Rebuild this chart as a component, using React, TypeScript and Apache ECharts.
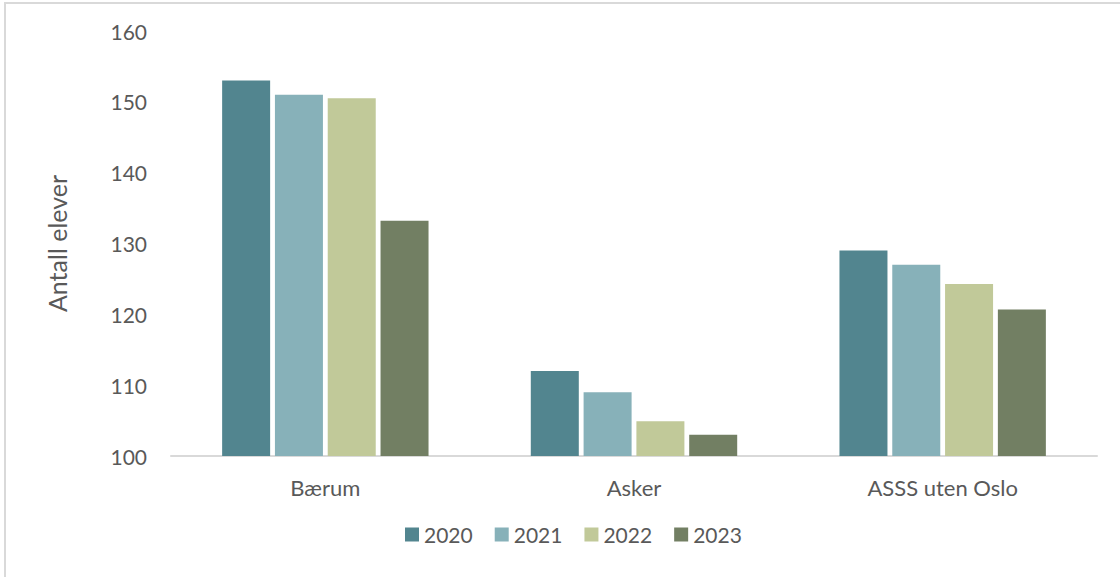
import React, { useEffect, useRef } from "react";
import * as echarts from "echarts";

const categories = ["Bærum", "Asker", "ASSS uten Oslo"];
const years = ["2020", "2021", "2022", "2023"];
const values2020 = [153, 112, 129];
const values2021 = [151, 109, 127];
const values2022 = [150.5, 104.9, 124.3];
const values2023 = [133.2, 103, 120.7];
const yTicks = { min: 100, max: 160, interval: 10 };
const colors = ["#52858F", "#87B1B9", "#C1C999", "#727F63"];

export default function App() {
  const ref = useRef<HTMLDivElement>(null);
  useEffect(() => {
    if (!ref.current) return;
    const chart = echarts.init(ref.current, null, { renderer: "svg" });
    const seriesData = [values2020, values2021, values2022, values2023];
    const font = "Lato, 'Open Sans', sans-serif";
    chart.setOption({
      animation: false,
      backgroundColor: "#ffffff",
      color: colors,
      textStyle: { fontFamily: font },
      graphic: [
        {
          type: "rect",
          shape: { x: 5, y: 3, width: 1130, height: 600 },
          style: { fill: "none", stroke: "#d9d9d9", lineWidth: 2 },
          silent: true,
        },
      ],
      grid: { left: 171, right: 23, top: 31, bottom: 121, containLabel: false },
      legend: {
        data: years,
        bottom: 27,
        left: 400,
        itemWidth: 14,
        itemHeight: 14,
        itemGap: 22,
        icon: "rect",
        textStyle: { fontSize: 21, color: "#595959", fontFamily: font },
      },
      xAxis: {
        type: "category",
        data: categories,
        axisLine: { show: true, lineStyle: { color: "#d9d9d9", width: 2 } },
        axisTick: { show: false },
        axisLabel: { fontSize: 22, color: "#595959", margin: 20, fontFamily: font },
      },
      yAxis: {
        type: "value",
        min: yTicks.min,
        max: yTicks.max,
        interval: yTicks.interval,
        name: "Antall elever",
        nameLocation: "middle",
        nameRotate: 90,
        nameGap: 102,
        nameTextStyle: { fontSize: 25, color: "#595959", fontFamily: font },
        axisLine: { show: false },
        axisTick: { show: false },
        splitLine: { show: false },
        axisLabel: { fontSize: 21, color: "#595959", margin: 24, fontFamily: font },
      },
      series: years.map((y, i) => ({
        name: y,
        type: "bar",
        data: seriesData[i],
        barWidth: 48,
        barGap: "10%",
        itemStyle: { color: colors[i] },
      })),
    });
    return () => chart.dispose();
  }, []);
  return (
    <div
      ref={ref}
      style={{ position: "fixed", left: 0, top: 0, width: 1120, height: 577 }}
    />
  );
}
